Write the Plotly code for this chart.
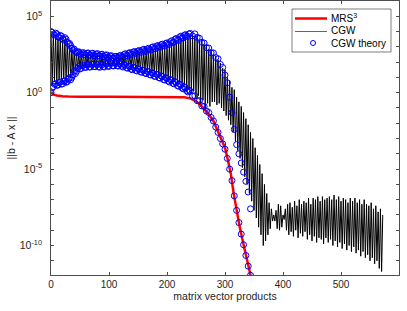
import plotly.graph_objects as go

# ---------------- data (log10 of residual norms) ----------------
# MRS^3 residual
mrs_x = [0, 2, 5, 10, 15, 20, 30, 50, 100, 150, 200, 220, 230, 240, 250, 260, 270, 280,
         290, 295, 300, 305, 310, 315, 320, 325, 330, 335, 340, 345]
mrs_log = [0.0, -0.07, -0.13, -0.18, -0.21, -0.23, -0.25, -0.27, -0.27, -0.27, -0.27, -0.28,
           -0.30, -0.37, -0.55, -0.9, -1.3, -1.85, -2.7, -3.1, -3.6, -4.4, -5.3, -6.6, -7.7,
           -8.7, -9.6, -10.5, -11.3, -12.1]

# CGW residual: local peaks at x = 0,4,8,... and troughs at x = 2,6,10,...
cgw_peaks = [
    4.0, 3.85, 3.8, 3.6, 3.65, 3.45, 3.5, 3.3, 3.1, 2.9,
    2.75, 2.6, 2.55, 2.5, 2.55, 2.45, 2.5, 2.42, 2.48, 2.4,
    2.45, 2.4, 2.44, 2.38, 2.4, 2.33, 2.35, 2.28, 2.3, 2.3,
    2.36, 2.4, 2.38, 2.48, 2.45, 2.55, 2.5, 2.6, 2.55, 2.68,
    2.65, 2.75, 2.7, 2.85, 2.8, 2.95, 2.9, 3.05, 3.0, 3.1,
    3.05, 3.2, 3.25, 3.35, 3.3, 3.5, 3.45, 3.65, 3.55, 3.72,
    3.6, 3.78, 3.65, 3.75, 3.45, 3.5, 3.15, 3.2, 2.85, 2.8,
    2.5, 2.4, 2.15, 1.95, 1.6, 1.5, 1.0, 0.8, 0.35, 0.2,
    -0.3, -0.6, -0.9, -1.3, -1.7, -2.1, -2.6, -3.0, -3.6, -4.1,
    -4.7, -5.3, -6.0, -6.6, -7.2, -7.6, -8.0, -7.7, -7.3, -7.4,
    -8.0, -7.6, -7.3, -7.2, -7.5, -7.1, -7.4, -7.0, -7.3, -7.1,
    -7.2, -6.9, -7.3, -6.9, -7.0, -6.8, -7.1, -6.8, -7.0, -6.9,
    -6.8, -7.0, -6.7, -7.0, -6.8, -7.1, -6.9, -7.0, -7.2, -6.9,
    -7.1, -6.9, -7.2, -7.0, -7.3, -7.0, -7.3, -7.4, -7.2, -7.6,
    -7.4, -7.8, -7.6, -8.0,
]
cgw_troughs = [
    0.5, 0.7, 0.55, 0.8, 0.62, 0.9, 0.7, 1.0, 0.95, 1.15,
    1.4, 1.6, 1.55, 1.72, 1.68, 1.8, 1.72, 1.85, 1.75, 1.9,
    1.7, 1.85, 1.75, 1.9, 1.8, 1.95, 1.82, 1.95, 1.85, 1.92,
    1.8, 1.85, 1.72, 1.8, 1.62, 1.7, 1.55, 1.65, 1.48, 1.55,
    1.4, 1.45, 1.28, 1.35, 1.15, 1.25, 1.05, 1.1, 0.9, 1.0,
    0.85, 0.95, 0.7, 0.8, 0.55, 0.65, 0.35, 0.5, 0.15, 0.3,
    -0.05, 0.1, -0.4, -0.2, -0.75, -0.5, -1.0, -0.7, -0.9, -0.6,
    -0.6, -0.8, -0.7, -1.0, -1.2, -1.5, -1.8, -2.1, -2.6, -3.2,
    -3.8, -4.3, -4.9, -5.5, -6.0, -6.6, -7.1, -7.7, -8.2, -8.8,
    -9.3, -10.0, -9.7, -9.3, -8.9, -8.4, -8.4, -8.9, -9.0, -8.8,
    -8.3, -9.0, -9.3, -9.1, -9.4, -9.0, -9.5, -9.2, -9.4, -9.1,
    -9.6, -9.3, -9.7, -9.4, -9.8, -9.5, -9.6, -9.9, -9.5, -9.8,
    -9.6, -10.0, -9.7, -10.1, -9.8, -10.2, -9.9, -10.3, -10.0, -10.4,
    -10.1, -10.5, -10.3, -10.7, -10.4, -10.8, -10.6, -11.0, -10.8, -11.2,
    -11.0, -11.5, -11.7,
]

# CGW theory: upper and lower estimates at x = 0,4,8,...,344
thy_up = [
    4.0, 3.82, 3.9, 3.65, 3.75, 3.5, 3.6, 3.3, 3.22, 2.9,
    2.85, 2.6, 2.68, 2.5, 2.62, 2.48, 2.6, 2.45, 2.58, 2.42,
    2.56, 2.4, 2.52, 2.36, 2.48, 2.3, 2.42, 2.26, 2.38, 2.28,
    2.45, 2.35, 2.55, 2.4, 2.62, 2.5, 2.7, 2.56, 2.76, 2.64,
    2.84, 2.7, 2.9, 2.78, 3.0, 2.88, 3.08, 2.97, 3.18, 3.05,
    3.26, 3.15, 3.4, 3.3, 3.55, 3.42, 3.7, 3.58, 3.8, 3.68,
    3.88, 3.72, 3.85, 3.62, 3.56, 3.3, 3.25, 2.95, 2.92, 2.62,
    2.6, 2.3, 2.22, 1.85, 1.65, 1.15, 0.65, -0.3, -1.3, -2.4,
    -3.4, -4.0, -4.6, -5.2, -5.8, -6.5, -7.6,
]
thy_lo = [
    0.0, 0.4, 0.6, 0.5, 0.7, 0.58, 0.78, 0.72, 0.98, 1.0,
    1.4, 1.4, 1.72, 1.6, 1.8, 1.65, 1.84, 1.68, 1.85, 1.7,
    1.84, 1.66, 1.82, 1.68, 1.88, 1.72, 1.92, 1.75, 1.92, 1.74,
    1.88, 1.68, 1.8, 1.6, 1.7, 1.5, 1.62, 1.42, 1.53, 1.33,
    1.45, 1.25, 1.36, 1.16, 1.27, 1.06, 1.17, 0.95, 1.05, 0.83,
    0.93, 0.7, 0.8, 0.58, 0.66, 0.42, 0.5, 0.25, 0.32, 0.05,
    0.1, -0.22, -0.2, -0.52, -0.52, -0.86, -0.9, -1.2, -1.3, -1.62,
    -1.85, -2.25, -2.6, -3.0, -3.35, -3.7, -4.3, -5.0, -5.75, -6.75,
    -7.7, -8.5, -9.25, -9.95, -10.65, -11.35, -11.95,
]
# CGW theory at the intermediate steps x = 2,6,10,...,238
thy_up_mid = [
    3.95, 3.78, 3.85, 3.62, 3.7, 3.45, 3.5, 3.2, 3.08, 2.8,
    2.7, 2.66, 2.55, 2.6, 2.5, 2.58, 2.46, 2.56, 2.44, 2.52,
    2.42, 2.5, 2.38, 2.45, 2.32, 2.4, 2.27, 2.36, 2.3, 2.4,
    2.36, 2.5, 2.44, 2.58, 2.52, 2.66, 2.6, 2.72, 2.66, 2.8,
    2.74, 2.86, 2.82, 2.96, 2.9, 3.05, 3.0, 3.14, 3.08, 3.22,
    3.18, 3.34, 3.3, 3.5, 3.45, 3.64, 3.58, 3.76, 3.7, 3.84,
]
thy_lo_mid = [
    0.3, 0.55, 0.48, 0.66, 0.56, 0.74, 0.68, 0.88, 0.85, 1.18,
    1.25, 1.6, 1.55, 1.76, 1.66, 1.82, 1.68, 1.86, 1.7, 1.86,
    1.7, 1.86, 1.7, 1.9, 1.74, 1.94, 1.76, 1.94, 1.76, 1.9,
    1.74, 1.84, 1.64, 1.74, 1.54, 1.66, 1.46, 1.58, 1.38, 1.48,
    1.28, 1.4, 1.18, 1.3, 1.08, 1.2, 0.98, 1.1, 0.86, 0.98,
    0.76, 0.86, 0.62, 0.72, 0.46, 0.55, 0.3, 0.38, 0.12, 0.16,
]

# legend entries and tick labels
legend_labels = ["MRS<sup>3</sup>", "CGW", "CGW theory"]
x_ticks = [0, 100, 200, 300, 400, 500, 600]
y_major_exp = [-10, -5, 0, 5]
y_minor_exp = [-11, -9, -8, -7, -6, -4, -3, -2, -1, 1, 2, 3, 4, 6]

# ---------------- assemble series ----------------
cgw_x, cgw_y = [], []
for i, p in enumerate(cgw_peaks):
    cgw_x.append(4 * i)
    cgw_y.append(10 ** p)
    if i < len(cgw_troughs):
        cgw_x.append(4 * i + 2)
        cgw_y.append(10 ** cgw_troughs[i])

thy_x = [4 * i for i in range(len(thy_up))]
thy_x_mid = [4 * i + 2 for i in range(len(thy_up_mid))]

FONT = "Liberation Sans, Arial, Helvetica, sans-serif"
AX = "#262626"
LINE = "#4d4d4d"
W, H = 407, 311
ML, MR, MT, MB = 51, 8, 1, 36
PW, PH = W - ML - MR, H - MT - MB


def px(xp):
    return (xp - ML) / PW


def py(yp):
    return (H - MB - yp) / PH


marker_style = dict(symbol="circle-open", size=6, color="#0000ff",
                    line=dict(width=1, color="#0000ff"))

fig = go.Figure()
fig.add_trace(go.Scatter(x=mrs_x, y=[10 ** v for v in mrs_log], mode="lines",
                         line=dict(color="#ff0000", width=2.5), name=legend_labels[0],
                         showlegend=False))
fig.add_trace(go.Scatter(x=cgw_x, y=cgw_y, mode="lines",
                         line=dict(color="#000000", width=1.0), name=legend_labels[1],
                         showlegend=False))
for xs, ys in [(thy_x, thy_up), (thy_x, thy_lo), (thy_x_mid, thy_up_mid), (thy_x_mid, thy_lo_mid)]:
    fig.add_trace(go.Scatter(x=xs, y=[10 ** v for v in ys], mode="markers",
                             marker=marker_style, name=legend_labels[2], showlegend=False))

# ---- legend box drawn in paper coordinates ----
shapes = [
    dict(type="rect", xref="paper", yref="paper", x0=px(292), x1=px(391), y0=py(52), y1=py(9),
         line=dict(color=AX, width=0.6), fillcolor="white", layer="above"),
    dict(type="line", xref="paper", yref="paper", x0=px(295), x1=px(327), y0=py(18.5), y1=py(18.5),
         line=dict(color="#ff0000", width=2.5), layer="above"),
    dict(type="line", xref="paper", yref="paper", x0=px(295), x1=px(327), y0=py(31.5), y1=py(31.5),
         line=dict(color="#000000", width=0.6), layer="above"),
    dict(type="circle", xref="paper", yref="paper", x0=px(310.5), x1=px(315.5), y0=py(45.5), y1=py(40.5),
         line=dict(color="#0000ff", width=1), layer="above"),
]
annotations = []
for lab, yp in zip(legend_labels, [17.5, 31.0, 43.5]):
    annotations.append(dict(text=lab, xref="paper", yref="paper", x=px(328.5), y=py(yp),
                            xanchor="left", yanchor="middle", showarrow=False,
                            font=dict(family=FONT, size=10, color="#000000")))

fig.update_layout(
    width=W, height=H,
    margin=dict(l=ML, r=MR, t=MT, b=MB),
    paper_bgcolor="white", plot_bgcolor="white",
    font=dict(family=FONT, size=10, color=AX),
    showlegend=False,
    shapes=shapes, annotations=annotations,
    xaxis=dict(range=[0, 600], tickvals=x_ticks,
               ticks="inside", ticklen=3, tickcolor=LINE, showline=True, linecolor=LINE,
               linewidth=0.7, mirror="allticks", showgrid=False, zeroline=False,
               automargin=False,
               title=dict(text="matrix vector products", standoff=3,
                          font=dict(family=FONT, size=10.5, color=AX)),
               tickfont=dict(family=FONT, size=10, color=AX)),
    yaxis=dict(type="log", range=[-11.93, 6.0],
               tickvals=[10.0 ** k for k in y_major_exp],
               ticktext=["10<sup>%d</sup>" % k for k in y_major_exp],
               ticks="inside", ticklen=3, tickcolor=LINE, showline=True, linecolor=LINE,
               linewidth=0.7, mirror="allticks", showgrid=False, zeroline=False,
               minor=dict(tickvals=[10.0 ** k for k in y_minor_exp], ticks="inside",
                          ticklen=3, tickcolor=LINE, showgrid=False),
               automargin=False, ticklabelstandoff=6,
               title=dict(text="||b - A x ||", standoff=2,
                          font=dict(family=FONT, size=10.5, color=AX)),
               tickfont=dict(family=FONT, size=10.5, color=AX)),
)

fig.write_html("out.html", config={"displayModeBar": False},
               post_script="document.body.style.margin='0';document.body.style.padding='0';")
